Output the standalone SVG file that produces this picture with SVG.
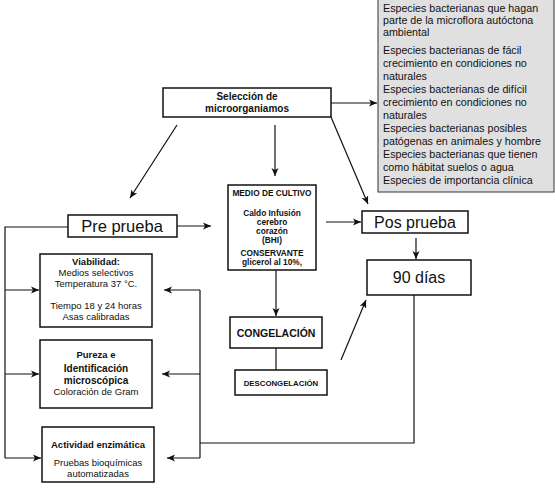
<svg xmlns="http://www.w3.org/2000/svg" width="555" height="492" viewBox="0 0 555 492">
<style>
text{font-family:"Liberation Sans",Arial,sans-serif;fill:#111}
.box{fill:#fff;stroke:#111;stroke-width:1.5}
.gray{fill:#e0e0e0;stroke:#333;stroke-width:1}
.b{font-weight:bold}
.c{text-anchor:middle}
.ln{fill:none;stroke:#111;stroke-width:1.2}
.ar{fill:none;stroke:#111;stroke-width:1.2;marker-end:url(#ah)}
</style>
<defs>
<marker id="ah" markerUnits="userSpaceOnUse" markerWidth="9" markerHeight="8" refX="8" refY="4" orient="auto">
<path d="M0,0.5 L8,4 L0,7.5 L2,4 Z" fill="#111"/>
</marker>
</defs>
<rect width="555" height="492" fill="#fff"/>

<g id="especies">
<rect class="gray" x="378" y="-1" width="176" height="193"/>
<g font-size="10.7">
<text x="383" y="12">Especies bacterianas que hagan</text>
<text x="383" y="24">parte de la microflora autóctona</text>
<text x="383" y="36">ambiental</text>
<text x="383" y="54">Especies bacterianas de fácil</text>
<text x="383" y="67">crecimiento en condiciones no</text>
<text x="383" y="80">naturales</text>
<text x="383" y="93">Especies bacterianas de difícil</text>
<text x="383" y="106">crecimiento en condiciones no</text>
<text x="383" y="119">naturales</text>
<text x="383" y="132">Especies bacterianas posibles</text>
<text x="383" y="145">patógenas en animales y hombre</text>
<text x="383" y="158">Especies bacterianas que tienen</text>
<text x="383" y="171">como hábitat suelos o agua</text>
<text x="383" y="184">Especies de importancia clínica</text>
</g>
</g>

<g id="seleccion">
<rect class="box" x="163" y="88" width="168" height="29"/>
<text class="b c" x="247" y="100" font-size="10">Selección de</text>
<text class="b c" x="247" y="112" font-size="10">microorganiamos</text>
</g>

<g id="medio">
<rect class="box" x="228" y="185" width="88" height="85"/>
<g class="b c" font-size="8.3">
<text x="272" y="196">MEDIO DE CULTIVO</text>
<text x="272" y="216">Caldo Infusión</text>
<text x="272" y="225">cerebro</text>
<text x="272" y="234">corazón</text>
<text x="272" y="243">(BHI)</text>
<text x="272" y="256">CONSERVANTE</text>
<text x="272" y="265">glicerol al 10%,</text>
</g>
</g>

<g id="preprueba">
<rect class="box" x="68" y="215" width="109" height="22"/>
<text class="c" x="122" y="232" font-size="16.5">Pre prueba</text>
</g>

<g id="posprueba">
<rect class="box" x="362" y="211" width="106" height="22"/>
<text class="c" x="415" y="228" font-size="16">Pos prueba</text>
</g>

<g id="dias90">
<rect class="box" x="367" y="260" width="104" height="35"/>
<text class="c" x="419" y="283" font-size="16">90 días</text>
</g>

<g id="viabilidad">
<rect class="box" x="40" y="254" width="112" height="73"/>
<text class="b c" x="96" y="265" font-size="9.5">Viabilidad:</text>
<text class="c" x="96" y="276" font-size="9.5">Medios selectivos</text>
<text class="c" x="96" y="287" font-size="9.5">Temperatura 37 °C.</text>
<text class="c" x="96" y="309" font-size="9.5">Tiempo 18 y 24 horas</text>
<text class="c" x="96" y="320" font-size="9.5">Asas calibradas</text>
</g>

<g id="pureza">
<rect class="box" x="40" y="340" width="112" height="68"/>
<text class="b c" x="96" y="358" font-size="9.5">Pureza e</text>
<text class="b c" x="96" y="372" font-size="10">Identificación</text>
<text class="b c" x="96" y="384" font-size="10">microscópica</text>
<text class="c" x="96" y="395" font-size="9.5">Coloración de Gram</text>
</g>

<g id="actividad">
<rect class="box" x="42" y="427" width="112" height="55"/>
<text class="b c" x="98" y="448" font-size="9.5">Actividad enzimática</text>
<text class="c" x="98" y="466" font-size="9.5">Pruebas bioquímicas</text>
<text class="c" x="98" y="477" font-size="9.5">automatizadas</text>
</g>

<g id="congelacion">
<rect class="box" x="230" y="317" width="92" height="31"/>
<text class="b c" x="276" y="337" font-size="10.5">CONGELACIÓN</text>
</g>

<g id="descongelacion">
<rect class="box" x="235" y="370" width="92" height="25"/>
<text class="b c" x="281" y="386" font-size="7.8">DESCONGELACIÓN</text>
</g>

<g id="connectors">
<line class="ar" x1="331" y1="103" x2="377" y2="103"/>
<line class="ar" x1="177" y1="125" x2="130" y2="198"/>
<line class="ar" x1="275" y1="125" x2="275" y2="176"/>
<line class="ar" x1="331" y1="117" x2="368" y2="204"/>
<line class="ar" x1="177" y1="226" x2="211" y2="226"/>
<line class="ar" x1="326" y1="222" x2="361" y2="222"/>
<line class="ar" x1="416" y1="238" x2="416" y2="259"/>
<line class="ar" x1="276" y1="270" x2="276" y2="316"/>
<line class="ln" x1="276" y1="348" x2="276" y2="370"/>
<line class="ar" x1="341" y1="360" x2="366" y2="300"/>
<polyline class="ln" points="68,227 5,227 5,458"/>
<line class="ar" x1="5" y1="290" x2="39" y2="290"/>
<line class="ar" x1="5" y1="374" x2="39" y2="374"/>
<line class="ar" x1="5" y1="458" x2="41" y2="458"/>
<polyline class="ln" points="414,295 414,443 200,443"/>
<line class="ln" x1="200" y1="290" x2="200" y2="458"/>
<line class="ar" x1="200" y1="290" x2="164" y2="290"/>
<line class="ar" x1="200" y1="374" x2="162" y2="374"/>
<line class="ar" x1="200" y1="458" x2="167" y2="458"/>
</g>
</svg>
